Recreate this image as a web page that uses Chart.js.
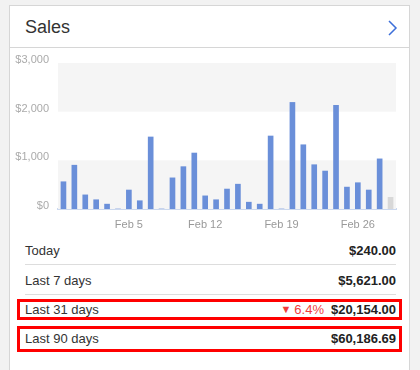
<!DOCTYPE html>
<html>
<head>
<meta charset="utf-8">
<script src="https://cdn.jsdelivr.net/npm/chart.js@4"></script>
<style>
  body { margin: 0; background: #f2f2f2; font-family: "Liberation Sans", Arial, sans-serif; }
  .card { position: absolute; left: 9px; top: 5px; width: 399px; height: 380px; background: #fff; border: 1px solid #d6d6d6; }
  .head { position: absolute; left: 0; top: 0; width: 399px; height: 41px; border-bottom: 1px solid #d6d6d6; }
  .head span { position: absolute; left: 15px; top: 11px; font-size: 18px; color: #333; }
  .head svg { position: absolute; left: 376px; top: 13px; }
  .chartbox { position: absolute; left: 10px; top: 48px; width: 398px; height: 190px; }
  .row { position: absolute; left: 25px; width: 371px; height: 20px; font-size: 13px; color: #333; line-height: 20px; }
  .row b { position: absolute; right: 0; top: 0; color: #222; }
  .sep { position: absolute; left: 25px; width: 371px; height: 1px; background: #ddd; }
  .box { position: absolute; left: 17px; width: 379px; border: 3px solid #ff0000; }
  .chg { position: absolute; right: 72px; top: 0; color: #f03c3c; }
  .chg i { font-style: normal; font-size: 11px; position: relative; top: -1px; margin-right: 3px; }
</style>
</head>
<body>
<div class="card">
  <div class="head"><span>Sales</span>
    <svg width="14" height="18"><polyline points="3,2 10,9 3,16" fill="none" stroke="#3d6fd9" stroke-width="1.5"/></svg>
  </div>
</div>
<div class="chartbox"><canvas id="c"></canvas></div>

<div class="row" style="top:241px">Today<b>$240.00</b></div>
<div class="sep" style="top:264px"></div>
<div class="row" style="top:271px">Last 7 days<b>$5,621.00</b></div>
<div class="sep" style="top:294px"></div>
<div class="box" style="top:299px;height:15px"></div>
<div class="row" style="top:300px">Last 31 days<span class="chg"><i>&#9660;</i>6.4%</span><b>$20,154.00</b></div>
<div class="box" style="top:326px;height:20px"></div>
<div class="row" style="top:329px">Last 90 days<b>$60,186.69</b></div>

<script>
const days = ['Jan 30', 'Jan 31', 'Feb 1', 'Feb 2', 'Feb 3', 'Feb 4', 'Feb 5', 'Feb 6', 'Feb 7', 'Feb 8',
  'Feb 9', 'Feb 10', 'Feb 11', 'Feb 12', 'Feb 13', 'Feb 14', 'Feb 15', 'Feb 16', 'Feb 17', 'Feb 18',
  'Feb 19', 'Feb 20', 'Feb 21', 'Feb 22', 'Feb 23', 'Feb 24', 'Feb 25', 'Feb 26', 'Feb 27', 'Feb 28', 'Feb 29'];
const sales = [560, 900, 290, 190, 100, 0, 390, 170, 1480, 0,
  640, 870, 1150, 270, 190, 410, 510, 140, 100, 1500,
  0, 2190, 1320, 910, 780, 2130, 450, 540, 390, 1030, 240];
const tickDays = ['Feb 5', 'Feb 12', 'Feb 19', 'Feb 26'];
const yTicks = [0, 1000, 2000, 3000];

// grey bands behind the bars, every other $1,000
const bands = {
  id: 'bands',
  beforeDatasetsDraw(chart) {
    const { ctx, chartArea: a, scales: { y } } = chart;
    ctx.save();
    ctx.fillStyle = '#f5f5f5';
    for (let i = 0; i < yTicks.length - 1; i += 2) {
      const top = y.getPixelForValue(yTicks[i + 1]);
      const bot = y.getPixelForValue(yTicks[i]);
      ctx.fillRect(a.left, top, a.right - a.left, bot - top);
    }
    ctx.restore();
  }
};

window.onload = function () {
  const ctx = document.getElementById('c').getContext('2d');
  new Chart(ctx, {
    type: 'bar',
    data: {
      labels: days,
      datasets: [{
        data: sales,
        // today's bar is grey
        backgroundColor: sales.map((v, i) => i === sales.length - 1 ? '#d8d8d8' : '#6a8fd9'),
        barThickness: 5
      }]
    },
    options: {
      responsive: true,
      maintainAspectRatio: false,
      animation: false,
      layout: { padding: { top: 15, right: 12, bottom: 1, left: 0 } },
      plugins: { legend: { display: false }, tooltip: { enabled: false } },
      scales: {
        x: {
          grid: { display: false },
          border: { color: '#cbd8ee', width: 2 },
          afterFit: s => { s.height = 28; },
          ticks: {
            autoSkip: false, maxRotation: 0, padding: 1,
            color: '#999', font: { family: 'Liberation Sans', size: 11 },
            callback: function (v) { const l = this.getLabelForValue(v); return tickDays.includes(l) ? l : ''; }
          }
        },
        y: {
          min: 0, max: 3000,
          grid: { display: false },
          border: { display: false },
          afterFit: s => { s.width = 48; },
          afterBuildTicks: s => { s.ticks = yTicks.map(v => ({ value: v })); },
          ticks: {
            padding: 1, labelOffset: -3,
            color: '#aaa', font: { family: 'Liberation Sans', size: 11 },
            callback: v => '$' + v.toLocaleString('en-US')
          }
        }
      }
    },
    plugins: [bands]
  });
};
</script>
</body>
</html>
